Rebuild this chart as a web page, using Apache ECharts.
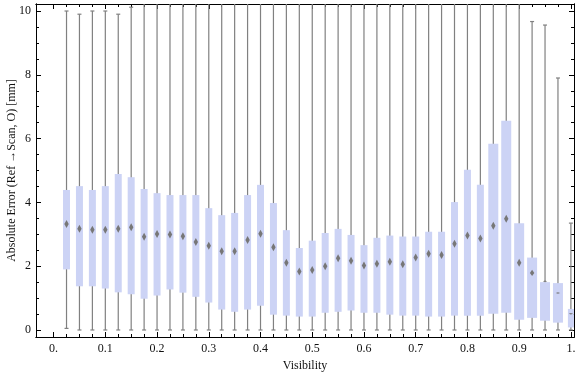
<!DOCTYPE html>
<html>
<head>
<meta charset="utf-8">
<script src="https://cdn.jsdelivr.net/npm/echarts@6/dist/echarts.min.js"></script>
<style>
    html, body { margin: 0; padding: 0; background: #fff; }
    #chart { width: 576px; height: 377px; }
</style>
</head>
<body>
<div id="chart"></div>
<script>
    // visibility bins (box centres)
    var visibility = [0.025, 0.05, 0.075, 0.1, 0.125, 0.15, 0.175, 0.2, 0.225, 0.25,
        0.275, 0.3, 0.325, 0.35, 0.375, 0.4, 0.425, 0.45, 0.475, 0.5,
        0.525, 0.55, 0.575, 0.6, 0.625, 0.65, 0.675, 0.7, 0.725, 0.75,
        0.775, 0.8, 0.825, 0.85, 0.875, 0.9, 0.925, 0.95, 0.975, 1.0];
    // whisker low / high (highs above 10.2 run off the frame)
    var whiskerLow = [0.05, 0, 0, 0, 0, 0, 0, 0, 0, 0,
        0, 0, 0, 0, 0, 0, 0, 0, 0, 0,
        0, 0, 0, 0, 0, 0, 0, 0, 0, 0,
        0, 0, 0, 0, 0, 0, 0, 0, 0, 0];
    var whiskerHigh = [10.0, 9.9, 10.0, 10.0, 9.9, 10.12, 12, 12, 12, 12,
        12, 12, 12, 12, 12, 12, 12, 12, 12, 12,
        12, 12, 12, 12, 12, 12, 12, 12, 12, 12,
        12, 12, 12, 12, 12, 12, 9.67, 9.56, 7.9, 3.35];
    var q1 = [1.90, 1.37, 1.37, 1.30, 1.18, 1.12, 0.98, 1.08, 1.27, 1.17,
        1.04, 0.86, 0.64, 0.57, 0.64, 0.76, 0.48, 0.45, 0.42, 0.42,
        0.54, 0.57, 0.61, 0.54, 0.54, 0.48, 0.45, 0.45, 0.42, 0.42,
        0.45, 0.45, 0.45, 0.51, 0.54, 0.32, 0.38, 0.29, 0.23, 0.08];
    var median = [3.32, 3.17, 3.14, 3.14, 3.17, 3.22, 2.92, 3.01, 2.99, 2.94,
        2.76, 2.64, 2.47, 2.47, 2.82, 3.02, 2.59, 2.11, 1.83, 1.88,
        2.00, 2.25, 2.17, 2.02, 2.08, 2.14, 2.06, 2.27, 2.39, 2.35,
        2.70, 2.96, 2.87, 3.27, 3.49, 2.11, 1.79, 1.53, 1.16, 0.51];
    var q3 = [4.39, 4.51, 4.39, 4.51, 4.89, 4.79, 4.42, 4.29, 4.23, 4.23,
        4.23, 3.82, 3.60, 3.67, 4.23, 4.55, 3.98, 3.13, 2.57, 2.80,
        3.04, 3.17, 2.98, 2.66, 2.89, 2.96, 2.93, 2.93, 3.08, 3.08,
        4.01, 5.02, 4.55, 5.84, 6.56, 3.35, 2.27, 1.50, 1.47, 0.66];

    var xTickValues = [0, 0.1, 0.2, 0.3, 0.4, 0.5, 0.6, 0.7, 0.8, 0.9, 1.0];
    var xTickLabels = ['0.', '0.1', '0.2', '0.3', '0.4', '0.5', '0.6', '0.7', '0.8', '0.9', '1.'];
    var yTickValues = [0, 2, 4, 6, 8, 10];
    var yTickLabels = ['0', '2', '4', '6', '8', '10'];

    var xMinorTicks = [];
    for (var i = 0; i <= 40; i++) {
        if (i % 4 !== 0) xMinorTicks.push(i * 0.025);
    }
    var yMinorTicks = [];
    for (var j = 0; j <= 20; j++) {
        if (j % 4 !== 0) yMinorTicks.push(j * 0.5);
    }

    var boxData = visibility.map(function (x, k) {
        return [x, whiskerLow[k], q1[k], median[k], q3[k], whiskerHigh[k]];
    });

    var font = 'Liberation Serif';
    var frameColor = '#000';
    var whiskerColor = '#808080';
    var textColor = '#111';

    function xAxisOf (pos, values, len, labels) {
        return {
            type: 'value',
            position: pos,
            min: -0.034,
            max: 1.006,
            axisLine: { show: true, onZero: false, lineStyle: { color: frameColor, width: 1 } },
            axisTick: { show: true, inside: true, length: len, customValues: values, lineStyle: { color: frameColor } },
            axisLabel: labels ? {
                show: true,
                customValues: values,
                margin: 6,
                color: textColor,
                fontFamily: font,
                fontSize: 12,
                formatter: function (v) {
                    for (var n = 0; n < xTickValues.length; n++) {
                        if (Math.abs(xTickValues[n] - v) < 1e-6) return xTickLabels[n];
                    }
                    return '';
                }
            } : { show: false },
            splitLine: { show: false }
        };
    }

    function yAxisOf (pos, values, len, labels) {
        return {
            type: 'value',
            position: pos,
            min: -0.22,
            max: 10.22,
            axisLine: { show: true, onZero: false, lineStyle: { color: frameColor, width: 1 } },
            axisTick: { show: true, inside: true, length: len, customValues: values, lineStyle: { color: frameColor } },
            axisLabel: labels ? {
                show: true,
                customValues: values,
                margin: 5,
                color: textColor,
                fontFamily: font,
                fontSize: 12,
                formatter: function (v) {
                    for (var n = 0; n < yTickValues.length; n++) {
                        if (Math.abs(yTickValues[n] - v) < 1e-6) return yTickLabels[n];
                    }
                    return '';
                }
            } : { show: false },
            splitLine: { show: false }
        };
    }

    var xBottom = xAxisOf('bottom', xTickValues, 5, true);
    xBottom.name = 'Visibility';
    xBottom.nameLocation = 'middle';
    xBottom.nameGap = 23;
    xBottom.nameMoveOverlap = false;
    xBottom.nameTextStyle = { color: textColor, fontFamily: font, fontSize: 12 };

    var yLeft = yAxisOf('left', yTickValues, 5, true);
    yLeft.name = 'Absolute Error (Ref \u2192Scan, O) [mm]';
    yLeft.nameLocation = 'middle';
    yLeft.nameGap = 18;
    yLeft.nameMoveOverlap = false;
    yLeft.nameTextStyle = { color: textColor, fontFamily: font, fontSize: 12 };

    function renderBox (params, api) {
        var idx = params.dataIndex;
        var x = api.value(0);
        var pLow = api.coord([x, api.value(1)]);
        var pQ1 = api.coord([x, api.value(2)]);
        var pMed = api.coord([x, api.value(3)]);
        var pQ3 = api.coord([x, api.value(4)]);
        var pHigh = api.coord([x, api.value(5)]);
        var cx = pMed[0];
        var w = idx >= 33 ? 10 : 7;
        if (idx === visibility.length - 1) w = 6;
        var h = pQ1[1] - pQ3[1];
        var hh = Math.max(0.8, Math.min(4, (h - 35) / 8));
        var capStyle = { stroke: whiskerColor, lineWidth: 1.2 };
        return {
            type: 'group',
            children: [
                { type: 'line', shape: { x1: cx, y1: pLow[1], x2: cx, y2: pHigh[1] }, style: capStyle },
                { type: 'line', shape: { x1: cx - 2, y1: pLow[1], x2: cx + 2, y2: pLow[1] }, style: capStyle },
                { type: 'line', shape: { x1: cx - 2, y1: pHigh[1], x2: cx + 2, y2: pHigh[1] }, style: capStyle },
                { type: 'rect', shape: { x: cx - w / 2, y: pQ3[1], width: w, height: h }, style: { fill: '#ccd3f5' } },
                {
                    type: 'polygon',
                    shape: { points: [[cx, pMed[1] - hh], [cx + 2.2, pMed[1]], [cx, pMed[1] + hh], [cx - 2.2, pMed[1]]] },
                    style: { fill: '#777' }
                }
            ]
        };
    }

    var chart = echarts.init(document.getElementById('chart'), null, { renderer: 'canvas' });
    chart.setOption({
        animation: false,
        backgroundColor: '#fff',
        grid: { left: 36, right: 2, top: 4, bottom: 40, containLabel: false, outerBoundsMode: 'none' },
        xAxis: [
            xBottom,
            xAxisOf('bottom', xMinorTicks, 3, false),
            xAxisOf('top', xTickValues, 5, false),
            xAxisOf('top', xMinorTicks, 3, false)
        ],
        yAxis: [
            yLeft,
            yAxisOf('left', yMinorTicks, 3, false),
            yAxisOf('right', yTickValues, 5, false),
            yAxisOf('right', yMinorTicks, 3, false)
        ],
        series: [{
            type: 'custom',
            xAxisIndex: 0,
            yAxisIndex: 0,
            clip: true,
            renderItem: renderBox,
            encode: { x: 0, y: [1, 2, 3, 4, 5] },
            data: boxData
        }]
    });
</script>
</body>
</html>
